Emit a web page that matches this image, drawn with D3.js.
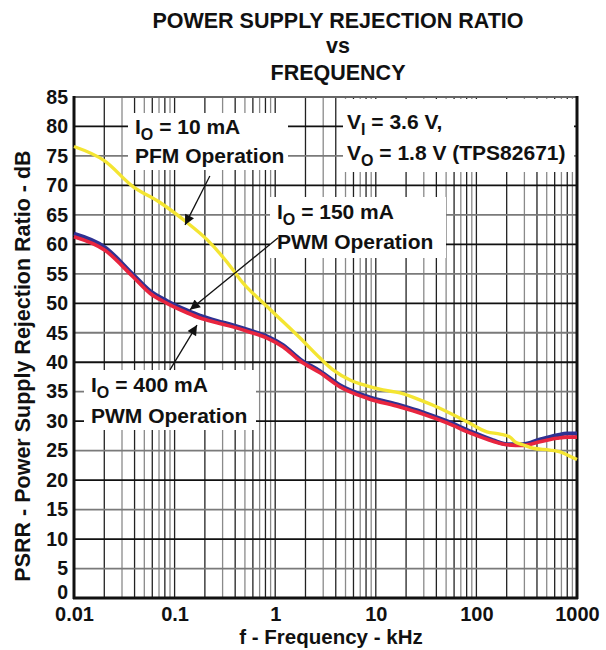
<!DOCTYPE html>
<html><head><meta charset="utf-8">
<script src="https://cdn.jsdelivr.net/npm/d3@7"></script>
<style>body{margin:0;background:#fff}svg{display:block}text{font-family:"Liberation Sans",Arial,Helvetica,sans-serif;font-weight:bold;fill:#111}</style>
</head><body><svg id="c" width="606" height="650"></svg>
<script>
// ---- data ----
const titleLines = ["POWER SUPPLY REJECTION RATIO", "vs", "FREQUENCY"];
const xTickValues = [0.01, 0.1, 1, 10, 100, 1000];
const xTickLabels = ["0.01", "0.1", "1", "10", "100", "1000"];
const yTickValues = [0,5,10,15,20,25,30,35,40,45,50,55,60,65,70,75,80,85];
const xLabel = "f - Frequency - kHz";
const yLabel = "PSRR - Power Supply Rejection Ratio - dB";

// IO = 10 mA, PFM (yellow)
const freqPFM10 = [0.01,0.02,0.0386,0.0716,0.133,0.21,0.38,0.45,0.85,1.77,2.79,3.76,5.54,8.17,11.8,17.4,29.4,37.1,80.6,127,172,216,242,290,366,539,678,912,1000];
const psrrPFM10 = [76.6,74.2,69.8,67.1,63.7,60.8,55.7,54.0,49.3,44.1,40.7,38.7,37.0,36.0,35.3,34.8,33.4,32.7,29.9,28.2,27.8,27.3,26.5,26.0,25.4,25.1,24.8,23.8,23.5];
// IO = 150 mA, PWM (blue) and IO = 400 mA, PWM (red)
const freqPWM = [0.01,0.0203,0.0386,0.0569,0.084,0.133,0.179,0.264,0.38,0.562,0.829,1.2,1.77,2.79,4.41,8.17,17.4,29.4,51.0,92.5,146,201,290,429,633,796,1000];
const psrrPWM150 = [61.8,59.5,54.9,52.1,50.4,48.8,47.9,47.0,46.3,45.4,44.4,42.9,40.5,38.5,36.1,34.2,32.7,31.5,30.0,28.1,26.8,26.1,26.1,26.9,27.6,27.9,27.9];
const psrrPWM400 = [61.3,59.0,54.5,51.7,50.0,48.4,47.5,46.7,46.0,45.1,44.1,42.6,40.2,38.2,35.8,33.9,32.4,31.2,29.7,27.8,26.6,26.0,25.9,26.5,27.1,27.3,27.3];

// ---- chart ----
const svg = d3.select("#c");
const L = 74, R = 577, T = 97, B = 598;
const x = d3.scaleLog().domain([0.01, 1000]).range([L, R]);
const y = d3.scaleLinear().domain([0, 85]).range([B, T]);

// title
svg.selectAll("text.title").data(titleLines).join("text")
  .attr("class","title").attr("x",338).attr("y",(d,i)=>[28,53,80][i])
  .attr("text-anchor","middle").style("font-size","21.5px").text(d=>d);

const g = svg.append("g");
// vertical grid
const shade = {1:"#222",2:"#222",3:"#8a8a8a",4:"#222",5:"#8a8a8a",6:"#222",7:"#8a8a8a",8:"#222",9:"#8a8a8a"};
const vt = x.ticks().filter(v => v > 0.0101 && v < 999);
g.selectAll("line.v").data(vt).join("line")
  .attr("x1",d=>x(d)).attr("x2",d=>x(d)).attr("y1",T).attr("y2",B)
  .attr("stroke",d=>shade[Math.round(d/Math.pow(10,Math.floor(Math.log10(d)+1e-9)))]).attr("stroke-width",1.3);
// horizontal grid
g.selectAll("line.h").data(yTickValues.filter(v=>v>0&&v<85)).join("line")
  .attr("x1",L).attr("x2",R).attr("y1",d=>y(d)).attr("y2",d=>y(d))
  .attr("stroke",d=>d%10===0?"#111":"#7a7a7a").attr("stroke-width",1.8);

// annotation boxes (white)
const boxes = [[128,113,160,57],[343,99,231,73],[270,197,176,61],[84,370,172,60]];
g.selectAll("rect.box").data(boxes).join("rect")
  .attr("x",d=>d[0]).attr("y",d=>d[1]).attr("width",d=>d[2]).attr("height",d=>d[3]).attr("fill","#fff");

// frame
svg.append("line").attr("x1",L).attr("x2",R).attr("y1",T).attr("y2",T).attr("stroke","#666").attr("stroke-width",2.2);
svg.append("line").attr("x1",R).attr("x2",R).attr("y1",T-1).attr("y2",B+1).attr("stroke","#111").attr("stroke-width",3);
svg.append("line").attr("x1",L).attr("x2",L).attr("y1",T-1).attr("y2",B+1).attr("stroke","#111").attr("stroke-width",3);
svg.append("line").attr("x1",L-1).attr("x2",R+1).attr("y1",B).attr("y2",B).attr("stroke","#111").attr("stroke-width",3);

// curves
const line = d3.line().x(d=>x(d[0])).y(d=>y(d[1])).curve(d3.curveMonotoneX);
const series = [
  {f:freqPWM, v:psrrPWM150, c:"#2e3192", w:4},
  {f:freqPWM, v:psrrPWM400, c:"#e8253f", w:3.6},
  {f:freqPFM10, v:psrrPFM10, c:"#f4e532", w:3.4}
];
svg.selectAll("path.s").data(series).join("path")
  .attr("d",s=>line(s.f.map((f,i)=>[f,s.v[i]])))
  .attr("fill","none").attr("stroke",s=>s.c).attr("stroke-width",s=>s.w).attr("stroke-linejoin","round");

// axes
const ax = svg.append("g").attr("transform",`translate(0,${B})`)
  .call(d3.axisBottom(x).tickValues(xTickValues).tickFormat((d,i)=>xTickLabels[i]).tickSize(0).tickPadding(8.5));
ax.select(".domain").remove();
ax.selectAll("text").style("font-size","20px").style("font-family",'"Liberation Sans",Arial,sans-serif').style("font-weight","bold").attr("fill","#111");
const ay = svg.append("g").attr("transform",`translate(${L},0)`)
  .call(d3.axisLeft(y).tickValues(yTickValues).tickSize(0).tickPadding(6));
ay.select(".domain").remove();
ay.selectAll("text").style("font-size","19.5px").style("font-family",'"Liberation Sans",Arial,sans-serif').style("font-weight","bold").attr("fill","#111");
ay.selectAll(".tick").filter(d=>d===0).select("text").attr("dy","0");

svg.append("text").attr("x",331).attr("y",644).attr("text-anchor","middle").style("font-size","20.5px").text(xLabel);
svg.append("text").attr("transform","translate(30,366) rotate(-90)").attr("text-anchor","middle").style("font-size","21.5px").text(yLabel);

// annotation texts
function ioText(xp, yp, val){
  const t = svg.append("text").attr("x",xp).attr("y",yp).style("font-size","21px");
  t.append("tspan").text("I");
  t.append("tspan").attr("dy",6).style("font-size","16px").text("O");
  t.append("tspan").attr("dy",-6).text(" = " + val);
}
function vText(xp, yp, sub, rest){
  const t = svg.append("text").attr("x",xp).attr("y",yp).style("font-size","21px");
  t.append("tspan").text("V");
  t.append("tspan").attr("dy",6).style("font-size","16px").text(sub);
  t.append("tspan").attr("dy",-6).text(rest);
}
ioText(135,134,"10 mA");
svg.append("text").attr("x",135).attr("y",163).style("font-size","21px").text("PFM Operation");
vText(347,129,"I"," = 3.6 V,");
vText(347,160,"O"," = 1.8 V (TPS82671)");
ioText(277,219,"150 mA");
svg.append("text").attr("x",277).attr("y",249).style("font-size","21px").text("PWM Operation");
ioText(91,392,"400 mA");
svg.append("text").attr("x",91).attr("y",423).style("font-size","21px").text("PWM Operation");

// arrows (data coords: from -> to)
const arrows = [
  [[0.224,71.6],[0.127,63.3]],
  [[1.07,61.1],[0.142,48.9]],
  [[0.0898,38.7],[0.167,46.3]]
];
svg.append("defs").append("marker").attr("id","ah").attr("viewBox","0 0 10 10")
  .attr("refX",10).attr("refY",5).attr("markerWidth",12).attr("markerHeight",10).attr("markerUnits","userSpaceOnUse")
  .attr("orient","auto").append("path").attr("d","M0,0L10,5L0,10Z").attr("fill","#111");
svg.selectAll("line.arr").data(arrows).join("line")
  .attr("x1",d=>x(d[0][0])).attr("y1",d=>y(d[0][1])).attr("x2",d=>x(d[1][0])).attr("y2",d=>y(d[1][1]))
  .attr("stroke","#111").attr("stroke-width",1.3).attr("marker-end","url(#ah)");
</script></body></html>
